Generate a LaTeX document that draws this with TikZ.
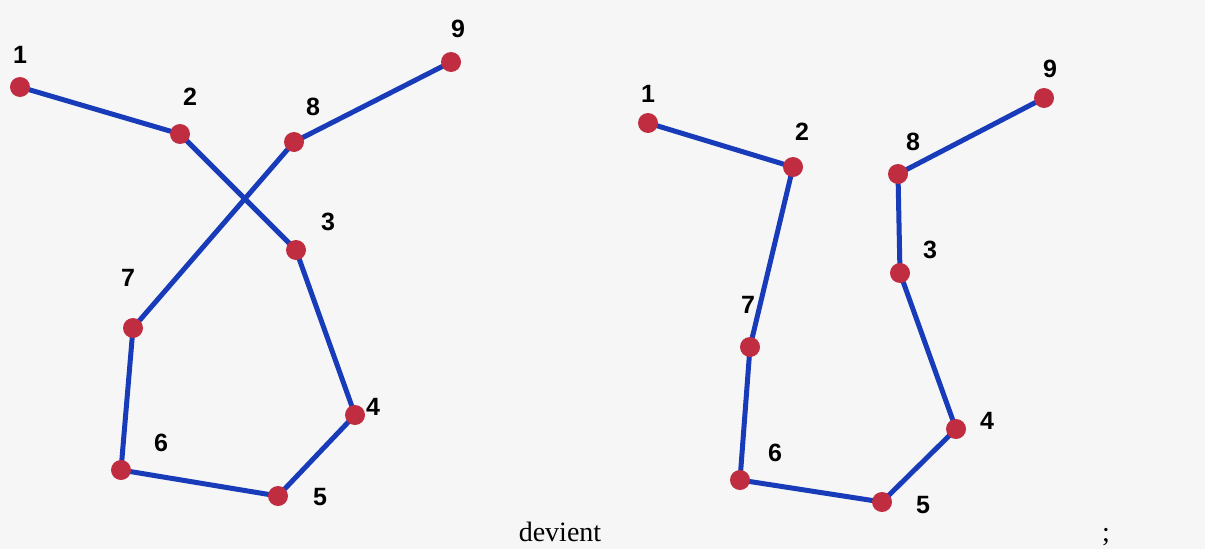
\documentclass[tikz,border=0pt]{standalone}
\usepackage{fontspec}
\usetikzlibrary{backgrounds}
\setmainfont{Liberation Serif}
\newfontfamily\labfont{Liberation Sans}
\definecolor{edgeblue}{RGB}{24,60,185}
\definecolor{dotred}{RGB}{192,44,64}
\definecolor{paper}{RGB}{246,246,246}
\begin{document}
\begin{tikzpicture}[x=1pt,y=-1pt,
  dot/.style={circle,fill=dotred,inner sep=0pt,minimum size=20pt},
  lab/.style={font=\labfont\bfseries\fontsize{25}{25}\selectfont,inner sep=0pt},
  edge/.style={draw=edgeblue,line width=5pt,line join=round}]
\useasboundingbox (0,0) rectangle (1205,549);
% left graph
\node[dot] (a1) at (20,87) {};
\node[dot] (a2) at (180,134) {};
\node[dot] (a8) at (294,142) {};
\node[dot] (a9) at (451,62) {};
\node[dot] (a3) at (296,250) {};
\node[dot] (a7) at (133,328) {};
\node[dot] (a4) at (355,415) {};
\node[dot] (a6) at (121,470) {};
\node[dot] (a5) at (278,496) {};
\node[lab] (la1) at (20,55) {1};
\node[lab] (la2) at (190,97) {2};
\node[lab] (la8) at (313,107) {8};
\node[lab] (la9) at (458,29) {9};
\node[lab] (la3) at (328,222) {3};
\node[lab] (la7) at (128,278) {7};
\node[lab] (la4) at (373,407) {4};
\node[lab] (la6) at (161,443) {6};
\node[lab] (la5) at (320,497) {5};
% right graph
\node[dot] (b1) at (648,123) {};
\node[dot] (b2) at (793,167) {};
\node[dot] (b8) at (898,174) {};
\node[dot] (b9) at (1044,98) {};
\node[dot] (b3) at (900,273) {};
\node[dot] (b7) at (750,347) {};
\node[dot] (b4) at (956,429) {};
\node[dot] (b6) at (740,480) {};
\node[dot] (b5) at (882,502) {};
\node[lab] (lb1) at (648,94) {1};
\node[lab] (lb2) at (802,132) {2};
\node[lab] (lb8) at (913,142) {8};
\node[lab] (lb9) at (1050,69) {9};
\node[lab] (lb3) at (930,250) {3};
\node[lab] (lb7) at (748,305) {7};
\node[lab] (lb4) at (987,421) {4};
\node[lab] (lb6) at (775,453) {6};
\node[lab] (lb5) at (923,505) {5};
% caption
\node[font=\fontsize{28}{28}\selectfont,inner sep=0pt,anchor=base] (dev) at (560,541) {devient};
\node[font=\fontsize{28}{28}\selectfont,inner sep=0pt,anchor=base] (semi) at (1106,541) {;};
\begin{scope}[on background layer]
\fill[paper] (0,0) rectangle (1205,549);
\draw[edge] (a1.center) -- (a2.center) -- (a3.center) -- (a4.center) -- (a5.center) -- (a6.center) -- (a7.center) -- (a8.center) -- (a9.center);
\draw[edge] (b1.center) -- (b2.center) -- (b7.center) -- (b6.center) -- (b5.center) -- (b4.center) -- (b3.center) -- (b8.center) -- (b9.center);
\end{scope}
\end{tikzpicture}
\end{document}
